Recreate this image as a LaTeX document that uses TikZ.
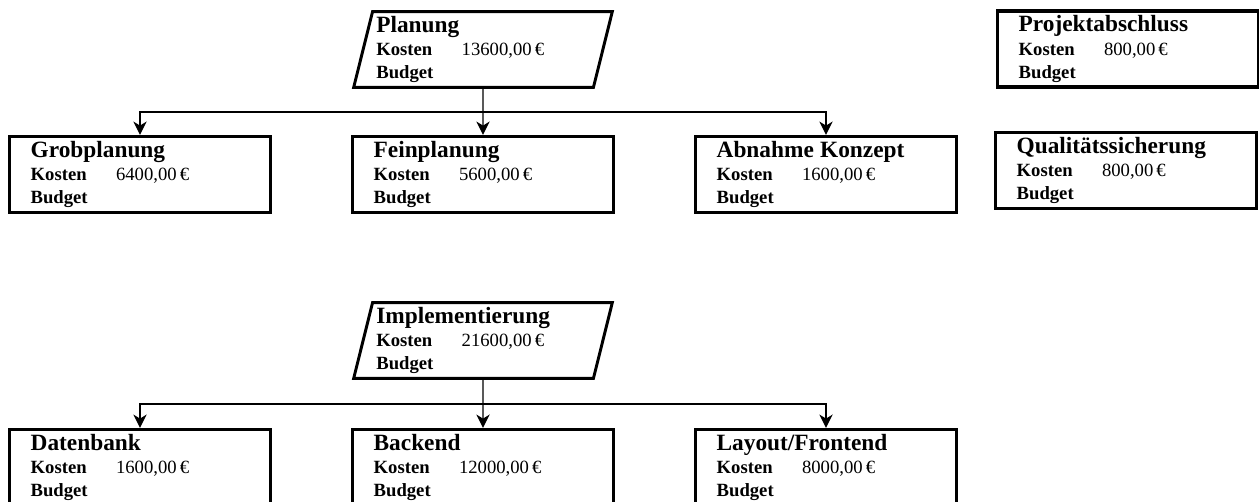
\documentclass[tikz,border=0pt]{standalone}
\usepackage{fontspec}
\setmainfont{Liberation Serif}
\usetikzlibrary{shapes.geometric,arrows.meta,calc}
\newcommand{\titel}[1]{{\fontsize{17.5}{21}\selectfont\bfseries #1}}
\newcommand{\kosten}[1]{\makebox[64pt][l]{\bfseries Kosten}#1\,€}
\begin{document}
\begin{tikzpicture}[x=0.75pt,y=-0.75pt,
    box/.style={draw,line width=2.5pt,minimum width=196pt,minimum height=56pt,
      text width=164pt,inner xsep=16pt,align=left,font=\fontsize{14}{17.5}\selectfont},
    phase/.style={trapezium,trapezium left angle=76,trapezium right angle=104,
      trapezium stretches body,draw,line width=2.2pt,minimum width=194pt,minimum height=54pt,
      text width=160pt,inner xsep=2pt,align=left,font=\fontsize{14}{17.5}\selectfont},
    flow/.style={-{Stealth[length=10pt,width=10pt,inset=3pt]},line width=1pt}]
    \path[use as bounding box,clip] (0,0) rectangle (1259,502);
    \node[phase] (plan) at (483,49.5) {\titel{Planung}\\\kosten{13600,00}\\\textbf{Budget}};
    \node[box] (grob) at (140,174.5) {\titel{Grobplanung}\\\kosten{6400,00}\\\textbf{Budget}};
    \node[box] (fein) at (483,174.5) {\titel{Feinplanung}\\\kosten{5600,00}\\\textbf{Budget}};
    \node[box] (abn) at (826,174.5) {\titel{Abnahme Konzept}\\\kosten{1600,00}\\\textbf{Budget}};
    \node[box] (absch) at (1128,49) {\titel{Projektabschluss}\\\kosten{800,00}\\\textbf{Budget}};
    \node[box] (qs) at (1126,170.5) {\titel{Qualitätssicherung}\\\kosten{800,00}\\\textbf{Budget}};
    \node[phase] (impl) at (483,340.5) {\titel{Implementierung}\\\kosten{21600,00}\\\textbf{Budget}};
    \node[box] (daten) at (140,467.5) {\titel{Datenbank}\\\kosten{1600,00}\\\textbf{Budget}};
    \node[box] (back) at (483,467.5) {\titel{Backend}\\\kosten{12000,00}\\\textbf{Budget}};
    \node[box] (front) at (826,467.5) {\titel{Layout/Frontend}\\\kosten{8000,00}\\\textbf{Budget}};
    \coordinate (bus1) at ($(plan.south)!0.5!(fein.north)$);
    \coordinate (bus2) at ($(impl.south)!0.5!(back.north)$);
    \draw[flow] (plan.south) -- (fein.north);
    \draw[flow] (bus1) -| (grob.north);
    \draw[flow] (bus1) -| (abn.north);
    \draw[flow] (impl.south) -- (back.north);
    \draw[flow] (bus2) -| (daten.north);
    \draw[flow] (bus2) -| (front.north);
\end{tikzpicture}
\end{document}
